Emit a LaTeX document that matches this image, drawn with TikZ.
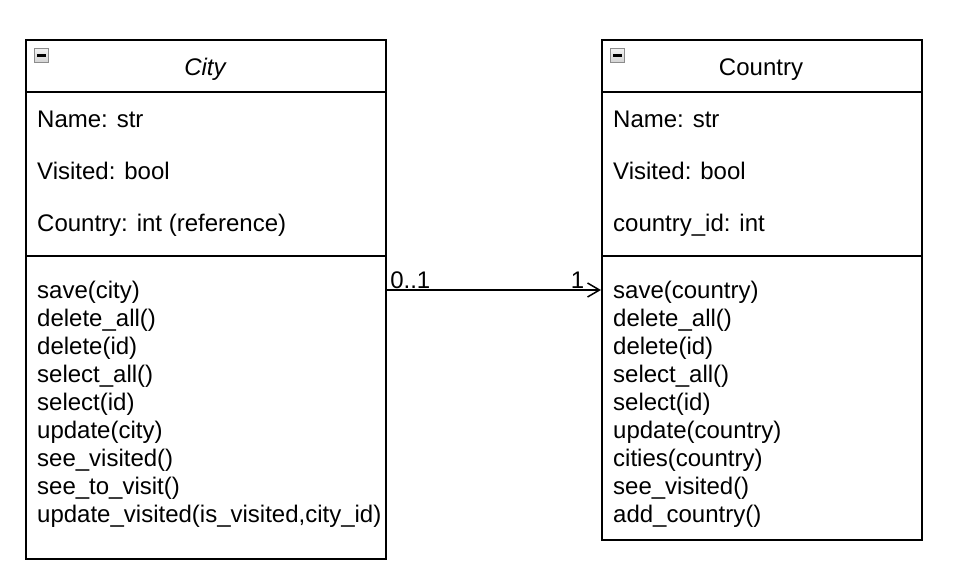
\documentclass[tikz,border=0pt]{standalone}
\usepackage{fontspec}
\setmainfont{Liberation Sans}
\usetikzlibrary{arrows.meta,positioning}

\begin{document}
\begin{tikzpicture}[x=1pt,y=-1pt,
	part/.style={draw,line width=1.5pt,anchor=north west,inner sep=0pt,minimum height=#1},
	txt/.style={anchor=base west,inner sep=0pt,font=\fontsize{24}{28}\selectfont},
	ttl/.style={anchor=base,inner sep=0pt,font=\fontsize{24}{28}\selectfont},
	fold/.style={draw=gray!90,line width=1.2pt,top color=gray!10,bottom color=gray!35,minimum size=14pt,anchor=north west,inner sep=0pt}]

\useasboundingbox (0,0) rectangle (954,576);

\node[part=52pt,minimum width=360pt] (cityhead) at (25,39) {};
\node[part=164pt,minimum width=360pt] (cityattr) at (25,91) {};
\node[part=303pt,minimum width=360pt] (cityops) at (25,255) {};

\node[part=52pt,minimum width=320pt] (countryhead) at (601,39) {};
\node[part=164pt,minimum width=320pt] (countryattr) at (601,91) {};
\node[part=284pt,minimum width=320pt] (countryops) at (601,255) {};

\node[fold] (cityfold) at (34,48) {};
\draw[line width=2.5pt] ([xshift=3pt]cityfold.west) -- ([xshift=-3pt]cityfold.east);
\node[fold] (countryfold) at (610,48) {};
\draw[line width=2.5pt] ([xshift=3pt]countryfold.west) -- ([xshift=-3pt]countryfold.east);

\node[ttl] (citytitle) at (205,75) {\itshape City};
\node[ttl] (countrytitle) at (761,75) {Country};

\node[txt] (cityname) at (37,127) {Name: str};
\node[txt] (cityvisited) at (37,179) {Visited: bool};
\node[txt] (citycountry) at (37,231) {Country: int (reference)};

\node[txt] (countryname) at (613,127) {Name: str};
\node[txt] (countryvisited) at (613,179) {Visited: bool};
\node[txt] (countryid) at (613,231) {country\_id: int};

\foreach \m [count=\i] in {save(city),delete\_all(),delete(id),select\_all(),select(id),update(city),see\_visited(),see\_to\_visit(),{update\_visited(is\_visited,city\_id)}}
	\node[txt] (cityop\i) at (37,270+28*\i) {\m};

\foreach \m [count=\i] in {save(country),delete\_all(),delete(id),select\_all(),select(id),update(country),cities(country),see\_visited(),add\_country()}
	\node[txt] (countryop\i) at (613,270+28*\i) {\m};

\draw[line width=1.5pt,-{Straight Barb[length=12pt,width=14pt]}]
	([yshift=-35pt]cityops.north east) -- ([yshift=-35pt]countryops.north west)
	node[txt,pos=0,anchor=base west,xshift=3pt,yshift=2pt] (mult1) {0..1}
	node[txt,pos=1,anchor=base east,xshift=-16pt,yshift=2pt] (mult2) {1};

\end{tikzpicture}
\end{document}
